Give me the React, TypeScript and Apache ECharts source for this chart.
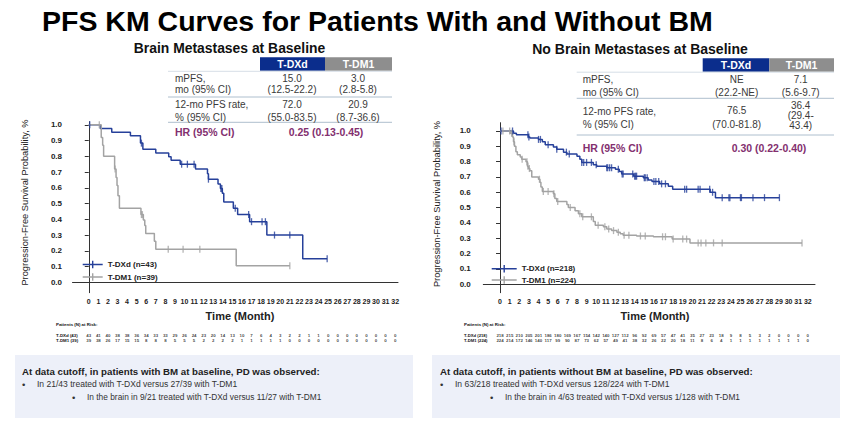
import React, { useEffect, useRef } from 'react';
import * as echarts from 'echarts';

// ---------- DATA ----------
const xTicks = [0, 1, 2, 3, 4, 5, 6, 7, 8, 9, 10, 11, 12, 13, 14, 15, 16, 17, 18, 19, 20, 21, 22, 23, 24, 25, 26, 27, 28, 29, 30, 31, 32];
const yTicks = [0, 0.1, 0.2, 0.3, 0.4, 0.5, 0.6, 0.7, 0.8, 0.9, 1.0];

// Brain metastases at baseline: [month, survival probability after step]
const bmDxdSteps = [
  [0, 1.0], [1.2, 0.977], [2.4, 0.953], [4.35, 0.93], [5.4, 0.884], [5.65, 0.845],
  [7.0, 0.822], [8.35, 0.798], [8.6, 0.775], [9.55, 0.75], [11.15, 0.72], [12.4, 0.69],
  [12.5, 0.655], [13.5, 0.625], [13.75, 0.595], [13.95, 0.565], [14.1, 0.51], [15.1, 0.47],
  [15.55, 0.43], [16.8, 0.385], [18.6, 0.30], [22.35, 0.15], [24.9, 0.15],
];
const bmDxdCensor = [0.1, 5.5, 9.7, 10.3, 11.0, 12.5, 13.8, 13.9, 15.3, 16.7, 17.0, 18.1, 18.45, 19.4, 21.0, 24.9];

const bmDm1Steps = [
  [0, 1.0], [1.3, 0.92], [1.45, 0.87], [1.55, 0.80], [2.7, 0.72], [2.85, 0.665], [2.95, 0.615],
  [3.05, 0.55], [3.2, 0.47], [5.45, 0.43], [5.7, 0.395], [5.85, 0.36], [5.95, 0.31],
  [6.85, 0.26], [7.0, 0.21], [15.4, 0.105], [21.0, 0.105],
];
const bmDm1Censor = [1.1, 2.75, 5.5, 5.6, 8.3, 9.85, 11.6, 21.0];

// No brain metastases at baseline
const noBmDxdSteps = [
  [0, 1.0], [1.4, 0.985], [1.7, 0.975], [2.95, 0.96], [3.1, 0.955], [4.0, 0.945], [4.4, 0.93],
  [4.7, 0.91], [5.55, 0.895], [5.9, 0.88], [6.6, 0.862], [6.95, 0.85], [8.0, 0.835], [8.3, 0.815],
  [8.5, 0.795], [9.7, 0.78], [10.05, 0.77], [11.1, 0.76], [12.0, 0.75], [12.4, 0.735],
  [12.65, 0.72], [13.9, 0.705], [14.9, 0.695], [15.4, 0.68], [15.8, 0.67], [16.6, 0.655],
  [17.5, 0.64], [17.95, 0.62], [21.85, 0.60], [22.4, 0.565], [29.05, 0.565],
];
const noBmDxdCensor = [
  0.1, 1.3, 2.9, 3.0, 4.0, 4.2, 5.0, 5.9, 6.9, 7.2, 8.5, 8.7, 9.0, 9.5, 10.0, 11.1, 11.2, 11.4,
  11.6, 12.3, 12.7, 12.8, 13.8, 14.0, 14.1, 14.2, 15.0, 15.1, 15.3, 16.0, 16.2, 16.5, 16.8,
  17.2, 19.2, 19.4, 20.6, 20.8, 21.8, 22.1, 23.1, 23.8, 23.9, 25.0, 25.1, 26.3, 27.5, 29.05,
];

const noBmDm1Steps = [
  [0, 1.0], [1.05, 0.985], [1.3, 0.96], [1.4, 0.93], [1.5, 0.90], [1.65, 0.865], [1.8, 0.845],
  [2.1, 0.83], [2.25, 0.815], [2.7, 0.80], [2.85, 0.77], [2.95, 0.755], [3.1, 0.74], [3.3, 0.70],
  [4.0, 0.685], [4.15, 0.665], [4.25, 0.635], [4.4, 0.605], [5.55, 0.59], [5.7, 0.56],
  [5.9, 0.54], [6.95, 0.52], [7.1, 0.50], [7.8, 0.48], [8.15, 0.46], [8.5, 0.44], [9.7, 0.41],
  [9.9, 0.385], [10.75, 0.375], [11.1, 0.36], [11.6, 0.35], [12.15, 0.34], [12.5, 0.33],
  [12.8, 0.32], [14.2, 0.315], [15.95, 0.31], [17.9, 0.295], [19.75, 0.27], [31.4, 0.27],
];
const noBmDm1Censor = [
  0.3, 1.0, 1.2, 1.45, 2.3, 2.8, 2.9, 3.05, 4.1, 4.5, 5.0, 5.6, 6.0, 7.3, 8.3, 8.6, 9.5, 10.2,
  10.9, 11.3, 11.8, 12.3, 12.9, 13.4, 14.6, 15.1, 16.9, 17.2, 18.0, 19.0, 19.4, 20.6, 20.9,
  21.4, 22.2, 23.1, 31.4,
];

// Patients at risk (months 0..32)
const bmDxdRisk = [43, 41, 40, 38, 38, 36, 34, 33, 33, 29, 26, 24, 23, 20, 14, 13, 10, 7, 6, 4, 3, 2, 2, 1, 1, 0, 0, 0, 0, 0, 0, 0, 0];
const bmDm1Risk = [39, 38, 26, 17, 15, 15, 8, 8, 8, 5, 5, 5, 2, 2, 2, 2, 1, 1, 1, 1, 1, 0, 0, 0, 0, 0, 0, 0, 0, 0, 0, 0, 0];
const noBmDxdRisk = [218, 215, 210, 205, 201, 186, 180, 169, 167, 154, 142, 140, 127, 112, 96, 92, 69, 57, 47, 41, 35, 27, 23, 18, 9, 8, 5, 3, 2, 0, 0, 0, 0];
const noBmDm1Risk = [224, 214, 172, 146, 140, 117, 99, 90, 87, 73, 62, 57, 49, 41, 38, 32, 26, 22, 20, 18, 11, 8, 6, 4, 1, 1, 1, 1, 1, 1, 1, 1, 0];

const seriesNames = ['T-DXd (n=43)', 'T-DM1 (n=39)', 'T-DXd (n=218)', 'T-DM1 (n=224)'];

// ---------- STYLE ----------
const SANS = "'Liberation Sans', Arial, Helvetica, sans-serif";
const BLUE = '#26409a';
const GREY = '#a3a3a3';
const HDR_BLUE = '#0b2d8c';
const HDR_GREY = '#8e8e8e';
const PURPLE = '#83306f';
const TXT = '#3a3a3a';
const SEP = '#aebfce';

function stepAt(steps: number[][], t: number) {
  let v = steps[0][1];
  for (const s of steps) if (s[0] <= t) v = s[1];
  return v;
}

type TOpts = { bold?: boolean; color?: string; align?: string; rotation?: number; scaleX?: number };
function T(x: number, y: number, text: string, size: number, o: TOpts = {}) {
  return {
    type: 'text', x, y, z: 10, silent: true, rotation: o.rotation || 0, scaleX: o.scaleX || 1,
    style: {
      text, fontSize: size, fontFamily: SANS, fontWeight: o.bold ? 'bold' : 'normal',
      fill: o.color || TXT, align: o.align || 'left', verticalAlign: 'middle',
      textAlign: o.align || 'left', textVerticalAlign: 'middle',
    },
  };
}
function R(x: number, y: number, w: number, h: number, fill: string, z = 1) {
  return { type: 'rect', z, silent: true, shape: { x, y, width: w, height: h }, style: { fill } };
}
function L(x1: number, y1: number, x2: number, y2: number, stroke: string) {
  return { type: 'line', z: 5, silent: true, shape: { x1, y1, x2, y2 }, style: { stroke, lineWidth: 1 } };
}

function kmAxes(min: number, max: number, ymin: number, ymax: number, gi: number, labelMargin: number) {
  const x = {
    type: 'value', gridIndex: gi, min, max,
    axisLine: { show: true, lineStyle: { color: '#333', width: 1 } },
    axisTick: { show: false },
    splitLine: { show: false },
    axisLabel: {
      customValues: xTicks, margin: 5, fontSize: 7, fontWeight: 'bold', color: '#222', fontFamily: SANS,
      formatter: (v: number) => String(v),
    },
  };
  const y = {
    type: 'value', gridIndex: gi, min: ymin, max: ymax,
    axisLine: { show: true, lineStyle: { color: '#333', width: 1 } },
    axisTick: { show: true, customValues: yTicks, length: 4, lineStyle: { color: '#333' } },
    splitLine: { show: false },
    axisLabel: {
      customValues: yTicks, margin: labelMargin, fontSize: 8, fontWeight: 'bold', color: '#222', fontFamily: SANS,
      formatter: (v: number) => v.toFixed(1),
    },
  };
  return { x, y };
}

function kmLine(name: string, steps: number[][], color: string, axis: number) {
  return {
    name, type: 'line', step: 'end', xAxisIndex: axis, yAxisIndex: axis, data: steps,
    color, symbol: 'none', showSymbol: false,
    lineStyle: { color, width: 1.5 }, itemStyle: { color }, silent: true, z: 2,
  };
}
function censorSeries(name: string, times: number[], steps: number[][], color: string, axis: number) {
  return {
    name, type: 'scatter', xAxisIndex: axis, yAxisIndex: axis,
    data: times.map((t) => [t, stepAt(steps, t)]),
    symbol: 'rect', symbolSize: [1.3, 7], itemStyle: { color }, silent: true, z: 3,
  };
}
function riskSeries(values: number[], row: number, axis: number) {
  return {
    type: 'scatter', xAxisIndex: axis, yAxisIndex: axis,
    data: values.map((v, i) => [xTicks[i], row, v]),
    symbolSize: 0.1, itemStyle: { color: 'transparent' }, silent: true,
    label: {
      show: true, position: 'inside', formatter: (p: any) => String(p.value[2]),
      fontSize: 4.4, fontWeight: 'bold', color: '#111', fontFamily: SANS,
    },
  };
}

const iconL = 'path://M0,3 L20,3 L20,4.5 L0,4.5 Z M9.3,0 L10.7,0 L10.7,7.5 L9.3,7.5 Z';
const iconR = 'path://M0,3 L25,3 L25,4.5 L0,4.5 Z M11.8,0 L13.2,0 L13.2,7.5 L11.8,7.5 Z';

export default function App() {
  const ref = useRef<HTMLDivElement>(null);
  useEffect(() => {
    if (!ref.current) return;
    const chart = echarts.init(ref.current, null, { renderer: 'svg' });
    const a0 = kmAxes(-1.7, 32.3, -0.066, 1.02, 0, 10.5);
    const a1 = kmAxes(-1.74, 32.75, -0.055, 1.054, 1, 12.5);
    const riskX = (gi: number, min: number, max: number) => ({ type: 'value', gridIndex: gi, min, max, show: false });
    const riskY = (gi: number) => ({ type: 'value', gridIndex: gi, min: 0, max: 1, show: false });

    const graphic: any[] = [
      T(42, 21, 'PFS KM Curves for Patients With and Without BM', 28.5, { bold: true, color: '#000' }),
      T(229.5, 47.5, 'Brain Metastases at Baseline', 13.9, { bold: true, color: '#111', align: 'center' }),
      T(640, 49.3, 'No Brain Metastases at Baseline', 14, { bold: true, color: '#111', align: 'center' }),

      // ----- left table -----
      R(168, 57, 224, 84, '#fff', 1),
      R(260, 57.3, 65, 13.5, HDR_BLUE, 2),
      R(325, 57.3, 67, 13.5, HDR_GREY, 2),
      T(292.5, 64.2, 'T-DXd', 10.5, { bold: true, color: '#fff', align: 'center' }),
      T(358.5, 64.2, 'T-DM1', 10.5, { bold: true, color: '#fff', align: 'center' }),
      L(168, 71.3, 392, 71.3, '#d6dee6'),
      T(175, 78.3, 'mPFS,', 10),
      T(175, 89.7, 'mo (95% CI)', 10),
      T(292, 78.3, '15.0', 10, { align: 'center' }),
      T(292, 89.7, '(12.5-22.2)', 10, { align: 'center' }),
      T(358, 78.3, '3.0', 10, { align: 'center' }),
      T(358, 89.7, '(2.8-5.8)', 10, { align: 'center' }),
      L(168, 97, 392, 97, SEP),
      T(175, 104.3, '12-mo PFS rate,', 10),
      T(175, 117.3, '% (95% CI)', 10),
      T(292, 104.3, '72.0', 10, { align: 'center' }),
      T(292, 117.3, '(55.0-83.5)', 10, { align: 'center' }),
      T(358, 104.3, '20.9', 10, { align: 'center' }),
      T(358, 117.3, '(8.7-36.6)', 10, { align: 'center' }),
      L(168, 122.3, 392, 122.3, SEP),
      T(175, 132, 'HR (95% CI)', 10.5, { bold: true, color: PURPLE }),
      T(326, 132, '0.25 (0.13-0.45)', 10.5, { bold: true, color: PURPLE, align: 'center' }),

      // ----- right table -----
      R(576.7, 58, 257.3, 99, '#fff', 1),
      R(702.7, 58.3, 66.6, 13.4, HDR_BLUE, 2),
      R(769.3, 58.3, 64.7, 13.4, HDR_GREY, 2),
      T(736, 65.2, 'T-DXd', 10.5, { bold: true, color: '#fff', align: 'center' }),
      T(801.6, 65.2, 'T-DM1', 10.5, { bold: true, color: '#fff', align: 'center' }),
      L(576.7, 72.2, 834, 72.2, '#d6dee6'),
      T(582.7, 79.3, 'mPFS,', 10),
      T(582.7, 92.7, 'mo (95% CI)', 10),
      T(736.7, 79.3, 'NE', 10, { align: 'center' }),
      T(736.7, 92.7, '(22.2-NE)', 10, { align: 'center' }),
      T(800.7, 79.3, '7.1', 10, { align: 'center' }),
      T(800.7, 92.7, '(5.6-9.7)', 10, { align: 'center' }),
      L(576.7, 98.3, 834, 98.3, SEP),
      T(582.7, 111.7, '12-mo PFS rate,', 10),
      T(582.7, 124.3, '% (95% CI)', 10),
      T(736.7, 110.5, '76.5', 10, { align: 'center' }),
      T(736.7, 124.3, '(70.0-81.8)', 10, { align: 'center' }),
      T(800.7, 105, '36.4', 10, { align: 'center' }),
      T(800.7, 115.3, '(29.4-', 10, { align: 'center' }),
      T(800.7, 125.7, '43.4)', 10, { align: 'center' }),
      L(576.7, 135, 834, 135, SEP),
      T(582.7, 147.7, 'HR (95% CI)', 10.5, { bold: true, color: PURPLE }),
      T(769, 147.7, '0.30 (0.22-0.40)', 10.5, { bold: true, color: PURPLE, align: 'center' }),

      // ----- axis titles -----
      T(25, 202.5, 'Progression-Free Survival Probability, %', 9.3, { color: '#222', align: 'center', rotation: Math.PI / 2 }),
      T(437, 204, 'Progression-Free Survival Probability, %', 9.3, { color: '#222', align: 'center', rotation: Math.PI / 2 }),
      T(240, 316, 'Time (Month)', 11, { bold: true, color: '#222', align: 'center' }),
      T(655, 316, 'Time (Month)', 11, { bold: true, color: '#222', align: 'center' }),

      // ----- at risk labels -----
      T(56, 324.5, 'Patients (N) at Risk:', 4.4, { bold: true, color: '#111' }),
      T(56, 335.3, 'T-DXd (43)', 4.4, { bold: true, color: '#111' }),
      T(56, 340, 'T-DM1 (39)', 4.4, { bold: true, color: '#111' }),
      T(464, 324.5, 'Patients (N) at Risk:', 4.4, { bold: true, color: '#111' }),
      T(464, 335.3, 'T-DXd (218)', 4.2, { bold: true, color: '#111' }),
      T(464, 340, 'T-DM1 (224)', 4.2, { bold: true, color: '#111' }),

      // ----- bottom boxes -----
      R(15, 355, 398, 63, '#edf0f9', 1),
      R(432, 355, 408, 63, '#edf0f9', 1),
      T(22, 371, 'At data cutoff, in patients with BM at baseline, PD was observed:', 9.7, { bold: true, color: '#222' }),
      T(22, 384, '•', 9.5, { color: '#333' }),
      T(37, 384, 'In 21/43 treated with T-DXd versus 27/39 with T-DM1', 9.5, { color: '#333', scaleX: 0.9 }),
      T(72, 397, '•', 9.5, { color: '#333' }),
      T(87, 397, 'In the brain in 9/21 treated with T-DXd versus 11/27 with T-DM1', 9.5, { color: '#333', scaleX: 0.88 }),
      T(440, 371, 'At data cutoff, in patients without BM at baseline, PD was observed:', 9.7, { bold: true, color: '#222' }),
      T(440, 384, '•', 9.5, { color: '#333' }),
      T(455, 384, 'In 63/218 treated with T-DXd versus 128/224 with T-DM1', 9.5, { color: '#333', scaleX: 0.9 }),
      T(490, 397, '•', 9.5, { color: '#333' }),
      T(505, 397, 'In the brain in 4/63 treated with T-DXd versus 1/128 with T-DM1', 9.5, { color: '#333', scaleX: 0.88 }),
    ];

    const legendBase = {
      orient: 'vertical', padding: 0, itemHeight: 7.5,
      textStyle: { fontSize: 8, fontWeight: 'bold', color: '#222', fontFamily: SANS },
      selectedMode: false,
    };

    chart.setOption({
      animation: false,
      backgroundColor: '#fff',
      grid: [
        { left: 72.5, top: 121.7, width: 325.5, height: 171 },
        { left: 483.3, top: 122.7, width: 331.7, height: 170 },
        { left: 72.5, top: 335.3, width: 325.5, height: 4.7 },
        { left: 483.3, top: 335.3, width: 331.7, height: 4.7 },
      ],
      xAxis: [a0.x, a1.x, riskX(2, -1.7, 32.3), riskX(3, -1.74, 32.75)],
      yAxis: [a0.y, a1.y, riskY(2), riskY(3)],
      legend: [
        {
          ...legendBase, left: 82.7, top: 260.5, itemWidth: 20, itemGap: 4.5,
          data: [{ name: seriesNames[0], icon: iconL }, { name: seriesNames[1], icon: iconL }],
        },
        {
          ...legendBase, left: 491.7, top: 264.8, itemWidth: 25, itemGap: 3.2,
          data: [{ name: seriesNames[2], icon: iconR }, { name: seriesNames[3], icon: iconR }],
        },
      ],
      series: [
        kmLine(seriesNames[0], bmDxdSteps, BLUE, 0),
        kmLine(seriesNames[1], bmDm1Steps, GREY, 0),
        kmLine(seriesNames[2], noBmDxdSteps, BLUE, 1),
        kmLine(seriesNames[3], noBmDm1Steps, GREY, 1),
        censorSeries('c0', bmDxdCensor, bmDxdSteps, BLUE, 0),
        censorSeries('c1', bmDm1Censor, bmDm1Steps, GREY, 0),
        censorSeries('c2', noBmDxdCensor, noBmDxdSteps, BLUE, 1),
        censorSeries('c3', noBmDm1Censor, noBmDm1Steps, GREY, 1),
        riskSeries(bmDxdRisk, 1, 2),
        riskSeries(bmDm1Risk, 0, 2),
        riskSeries(noBmDxdRisk, 1, 3),
        riskSeries(noBmDm1Risk, 0, 3),
      ],
      graphic,
    });
    return () => chart.dispose();
  }, []);
  return <div ref={ref} style={{ position: 'fixed', left: 0, top: 0, width: 846, height: 423 }} />;
}
